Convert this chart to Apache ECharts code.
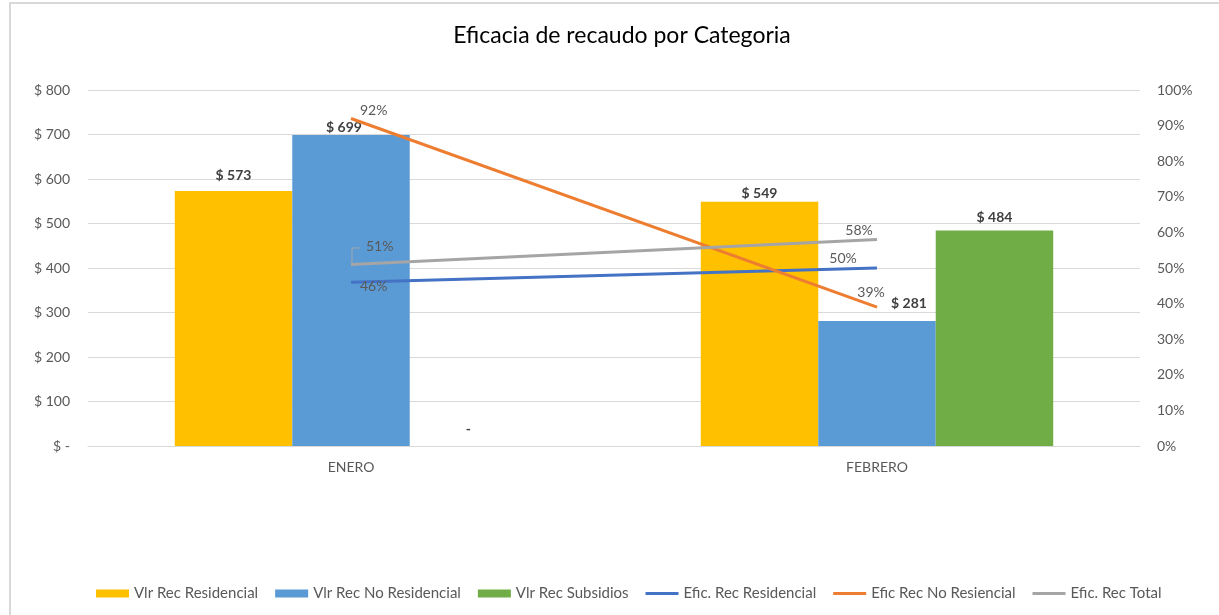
<!DOCTYPE html>
<html>
<head>
<meta charset="utf-8">
<script src="https://cdn.jsdelivr.net/npm/echarts@6/dist/echarts.min.js"></script>
<style>
  html, body { margin: 0; padding: 0; background: #fff; }
  #main { width: 1219px; height: 615px; }
</style>
</head>
<body>
<div id="main"></div>
<script>
// datos
var categorias = ["ENERO", "FEBRERO"];
var vlrRecResidencial = [573, 549];
var vlrRecNoResidencial = [699, 281];
var vlrRecSubsidios = [0, 484];
var eficRecResidencial = [0.46, 0.50];
var eficRecNoResidencial = [0.92, 0.39];
var eficRecTotal = [0.51, 0.58];

var fuente = "Lato";
var gris = "#595959";
var iconoLinea = "path://M0,0H34V3H0Z";

var myChart = echarts.init(document.getElementById("main"));

function pesos(v) {
  return v === 0 ? "$ -" : "$ " + v;
}

function pct(v) {
  return Math.round(v * 100) + "%";
}

var barLbl = {
  show: true,
  position: "top",
  distance: 7,
  fontFamily: fuente,
  fontSize: 14,
  fontWeight: "bold",
  color: "#404040",
  formatter: function (p) {
    return p.value === 0 ? "-" : "$ " + p.value;
  },
};

// cada punto con su propia posicion de etiqueta
function conEtiquetas(vals, opts) {
  return vals.map(function (v, i) {
    return { value: v, label: opts[i] };
  });
}

var lineLbl = {
  show: true,
  fontFamily: fuente,
  fontSize: 14,
  color: gris,
  formatter: function (p) {
    return pct(p.value);
  },
};

function serieLinea(nombre, datos, color, etiquetas) {
  return {
    name: nombre,
    type: "line",
    yAxisIndex: 1,
    symbol: "circle",
    symbolSize: 0.01,
    lineStyle: { color: color, width: 3 },
    itemStyle: { color: color },
    label: lineLbl,
    data: conEtiquetas(datos, etiquetas),
    z: 5,
  };
}

var option = {
  animation: false,
  textStyle: { fontFamily: fuente },
  title: {
    text: "Eficacia de recaudo por Categoria",
    left: 617,
    textAlign: "center",
    top: 19,
    textStyle: { fontFamily: fuente, fontSize: 23, fontWeight: "normal", color: "#000" },
  },
  graphic: [
    {
      type: "rect",
      shape: { x: 10, y: 3, width: 1300, height: 700 },
      style: { fill: "none", stroke: "#d9d9d9", lineWidth: 2 },
      silent: true,
    },
    {
      type: "polyline",
      shape: { points: [[352, 264], [352, 248], [360, 248]] },
      style: { stroke: "#a6a6a6", lineWidth: 1, fill: "none" },
      z: 10,
      silent: true,
    },
  ],
  legend: {
    left: 91,
    top: 581,
    itemWidth: 33,
    itemHeight: 8,
    itemGap: 17,
    textStyle: { fontFamily: fuente, fontSize: 15, color: gris },
    data: [
      { name: "Vlr Rec Residencial", icon: "rect" },
      { name: "Vlr Rec No Residencial", icon: "rect" },
      { name: "Vlr Rec Subsidios", icon: "rect" },
      { name: "Efic. Rec Residencial", icon: iconoLinea },
      { name: "Efic Rec No Resiencial", icon: iconoLinea },
      { name: "Efic. Rec Total", icon: iconoLinea },
    ],
  },
  grid: {
    left: 88,
    right: 79,
    top: 90,
    bottom: 169,
    containLabel: false,
  },
  xAxis: {
    type: "category",
    data: categorias,
    axisLine: { lineStyle: { color: "#d9d9d9", width: 1 } },
    axisTick: { show: false },
    axisLabel: { color: gris, fontFamily: fuente, fontSize: 14, margin: 14 },
  },
  yAxis: [
    {
      type: "value",
      min: 0,
      max: 800,
      interval: 100,
      axisLine: { show: false },
      axisTick: { show: false },
      splitLine: { lineStyle: { color: "#d9d9d9", width: 1 } },
      axisLabel: {
        color: gris,
        fontFamily: fuente,
        fontSize: 14,
        margin: 18,
        formatter: pesos,
      },
    },
    {
      type: "value",
      min: 0,
      max: 1,
      interval: 0.1,
      axisLine: { show: false },
      axisTick: { show: false },
      splitLine: { show: false },
      axisLabel: {
        color: gris,
        fontFamily: fuente,
        fontSize: 14,
        margin: 17,
        formatter: pct,
      },
    },
  ],
  series: [
    {
      name: "Vlr Rec Residencial",
      type: "bar",
      data: conEtiquetas(vlrRecResidencial, [{ offset: [0, -2] }, { offset: [0, 6] }]),
      itemStyle: { color: "#FFC000" },
      barGap: "0%",
      barCategoryGap: "33%",
      label: barLbl,
    },
    {
      name: "Vlr Rec No Residencial",
      type: "bar",
      data: conEtiquetas(vlrRecNoResidencial, [{ offset: [-7, 7] }, { offset: [32, -3] }]),
      itemStyle: { color: "#5B9BD5" },
      label: barLbl,
    },
    {
      name: "Vlr Rec Subsidios",
      type: "bar",
      data: conEtiquetas(vlrRecSubsidios, [{ offset: [0, -3] }, { offset: [0, 1] }]),
      itemStyle: { color: "#70AD47" },
      label: barLbl,
    },
    serieLinea("Efic. Rec Residencial", eficRecResidencial, "#4472C4", [
      { position: "right", offset: [4, 4] },
      { position: "top", offset: [-34, 2] },
    ]),
    serieLinea("Efic Rec No Resiencial", eficRecNoResidencial, "#ED7D31", [
      { position: "right", offset: [4, -8] },
      { position: "top", offset: [-6, -3] },
    ]),
    serieLinea("Efic. Rec Total", eficRecTotal, "#A5A5A5", [
      { position: "right", offset: [10, -18] },
      { position: "top", offset: [-18, 3] },
    ]),
  ],
};

myChart.setOption(option);
</script>
</body>
</html>
